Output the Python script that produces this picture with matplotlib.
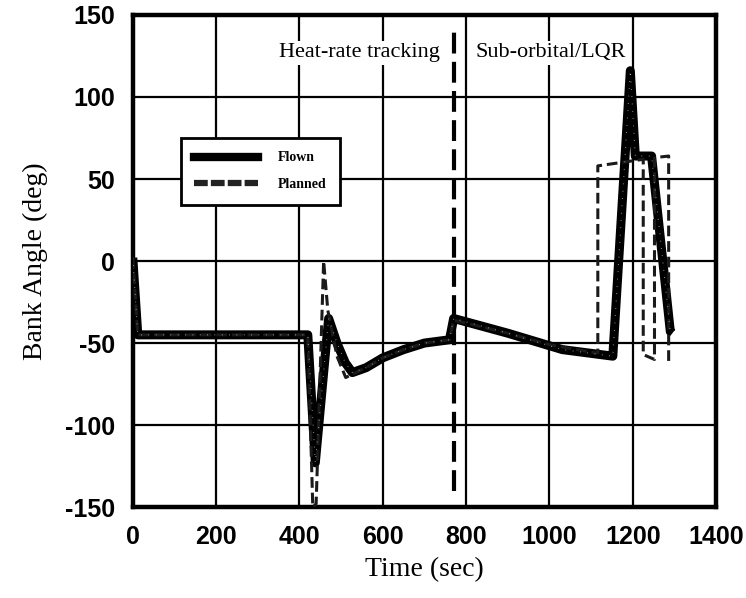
import matplotlib
matplotlib.use("Agg")
import matplotlib.pyplot as plt
from matplotlib.lines import Line2D

plt.rcParams["axes.unicode_minus"] = False

# Bank angle history (time in sec, angle in deg)
flown_t = [0, 12, 420, 438, 470, 490, 510, 527, 560, 600, 650, 700, 760, 770,
           900, 1031, 1152, 1194, 1206, 1245, 1290, 1295]
flown_v = [2, -45, -45, -123, -35, -50, -62, -68, -65, -59, -54, -50, -48, -35,
           -44, -54, -58, 116, 64, 64, -43, -44]

planned_t = [0, 12, 420, 432, 440, 458, 468, 490, 511, 560, 600, 650, 700, 760, 770,
             900, 1000, 1110, 1116, 1116, 1170, 1225, 1225, 1252, 1252, 1286, 1286]
planned_v = [2, -45, -45, -150, -148, 0, -30, -58, -71, -65, -59, -54, -50, -48, -36,
             -44, -51, -56, -56, 58, 60, 62, -57, -60, 63, 64, -62]

phase_switch_t = 770
phase_labels = ["Heat-rate tracking", "Sub-orbital/LQR"]

x_ticks = [0, 200, 400, 600, 800, 1000, 1200, 1400]
y_ticks = [-150, -100, -50, 0, 50, 100, 150]

fig = plt.figure(figsize=(7.46, 5.98), dpi=100)
ax = fig.add_axes([0.178, 0.152, 0.782, 0.823])

ax.set_xlim(0, 1400)
ax.set_ylim(-150, 150)
ax.set_xticks(x_ticks)
ax.set_yticks(y_ticks)
ax.grid(True, color="black", linewidth=1.6, zorder=0)
ax.set_axisbelow(True)

for s in ax.spines.values():
    s.set_linewidth(3.2)
    s.set_color("black")

ax.tick_params(length=0, pad=13)
for lab in ax.get_xticklabels() + ax.get_yticklabels():
    lab.set_fontfamily("Liberation Sans")
    lab.set_fontweight("bold")
    lab.set_fontsize(18)

ax.set_xlabel("Time (sec)", family="Liberation Serif", fontsize=20, labelpad=6)
ax.set_ylabel("Bank Angle (deg)", family="Liberation Serif", fontsize=20, labelpad=12)

# Phase boundary
ax.plot([phase_switch_t, phase_switch_t], [-140, 142], color="black", lw=3.0,
        dashes=(5, 2), zorder=3)

# Trajectories
ax.plot(flown_t, flown_v, color="black", lw=6.5, solid_joinstyle="round",
        solid_capstyle="butt", zorder=4)
ax.plot(planned_t, planned_v, color="#1a1a1a", lw=2.2, dashes=(3.5, 1.6), zorder=5)
ax.plot(flown_t, flown_v, color="#bbbbbb", lw=0.8, dashes=(0.6, 6), zorder=6)

# Phase labels
txt_kw = dict(family="Liberation Serif", fontsize=16, va="center",
              bbox=dict(facecolor="white", edgecolor="none", pad=2), zorder=7)
ax.text(736, 127, phase_labels[0], ha="right", **txt_kw)
ax.text(822, 127, phase_labels[1], ha="left", **txt_kw)

handles = [
    Line2D([], [], color="black", lw=6),
    Line2D([], [], color="#222222", lw=4.5, dashes=(2.2, 0.5)),
]
leg = ax.legend(handles, ["Flown", "Planned"], loc="upper left",
                bbox_to_anchor=(0.07, 0.765), frameon=True, fancybox=False,
                framealpha=1, edgecolor="black", handlelength=4.6,
                handletextpad=1.4, borderpad=1.0, labelspacing=1.0,
                prop=dict(family="Liberation Serif", weight="bold", size=10))
leg.get_frame().set_linewidth(2)
leg.set_zorder(8)

fig.savefig("out.png", dpi=100)
